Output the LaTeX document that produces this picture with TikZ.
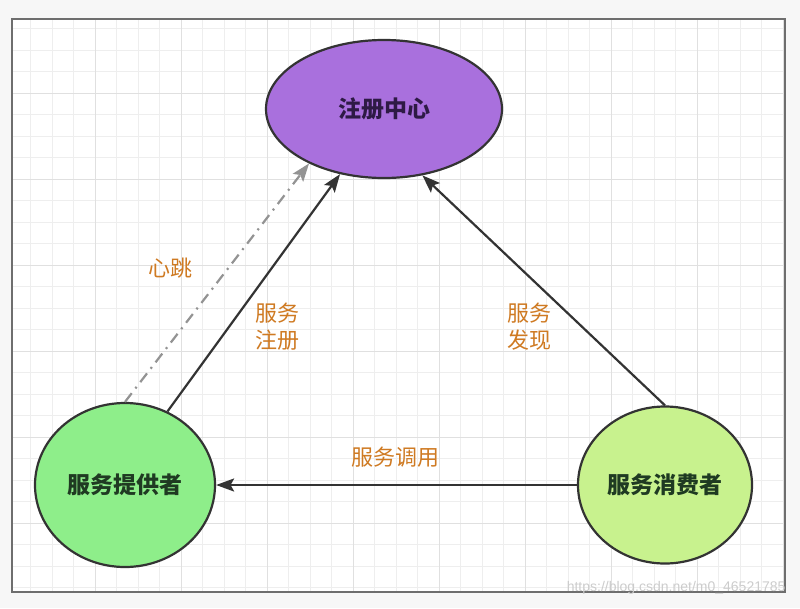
\documentclass[tikz,border=0pt]{standalone}
\usepackage{fontspec}
\setmainfont{Noto Sans CJK SC}
\newfontfamily\wmfont{Liberation Sans}
\usetikzlibrary{shapes.geometric,arrows.meta}
\definecolor{purplefill}{HTML}{A970DD}
\definecolor{provfill}{HTML}{8EEE8A}
\definecolor{consfill}{HTML}{C8F28E}
\definecolor{edgecol}{HTML}{333333}
\definecolor{labelcol}{HTML}{CF7A22}
\definecolor{gridminor}{HTML}{EEEEEE}
\definecolor{gridmajor}{HTML}{E0E0E0}
\definecolor{framecol}{HTML}{6E6E6E}
\definecolor{regtext}{HTML}{2E1A45}
\definecolor{nodetext}{HTML}{1F3A22}
\tikzset{
  ent/.style={ellipse, draw=edgecol, line width=2.2pt, inner sep=0pt,
    font=\fontsize{23}{27}\selectfont\bfseries},
  link/.style={draw=edgecol, line width=2.2pt,
    -{Stealth[length=18pt,width=13pt,inset=3.5pt]}},
  beat/.style={draw=gray!85, line width=2.2pt,
    dash pattern=on 11pt off 6pt on 2pt off 6pt,
    -{Stealth[length=18pt,width=13pt,inset=3.5pt]}},
  lab/.style={text=labelcol, font=\fontsize{22}{27}\selectfont, align=center}
}
\begin{document}
\begin{tikzpicture}[x=1pt,y=-1pt]
\useasboundingbox (0,0) rectangle (800,608);
\fill[white!97!black] (0,0) rectangle (800,608);
\fill[white] (12,19) rectangle (785,592);
\begin{scope}
  \clip (12,19) rectangle (785,592);
  \foreach \i in {0,...,36} {
    \pgfmathsetmacro{\xx}{9+21.5*\i}
    \draw[gridminor, line width=0.8pt] (\xx,19) -- (\xx,592);
  }
  \foreach \i in {0,...,27} {
    \pgfmathsetmacro{\yy}{7+21.5*\i}
    \draw[gridminor, line width=0.8pt] (12,\yy) -- (785,\yy);
  }
  \foreach \i in {0,...,9} {
    \pgfmathsetmacro{\xx}{9+86*\i}
    \draw[gridmajor, line width=1pt] (\xx,19) -- (\xx,592);
  }
  \foreach \i in {0,...,7} {
    \pgfmathsetmacro{\yy}{7+86*\i}
    \draw[gridmajor, line width=1pt] (12,\yy) -- (785,\yy);
  }
\end{scope}
\draw[framecol, line width=2.2pt] (12,19) rectangle (785,592);

\node[ent, fill=purplefill, text=regtext, minimum width=236pt, minimum height=138pt] (reg) at (384,109) {注册中心};
\node[ent, fill=provfill, text=nodetext, minimum width=180pt, minimum height=164pt] (prov) at (125,485) {服务提供者};
\node[ent, fill=consfill, text=nodetext, minimum width=174pt, minimum height=157pt] (cons) at (665,485) {服务消费者};

\draw[beat] (prov.90) -- (reg.216.5);
\draw[link] (prov.60) -- (reg.-124.5);
\draw[link] (cons.90) -- (reg.-60);
\draw[link] (cons.west) -- (prov.east);

\node[lab] (lbeat) at (170,268) {心跳};
\node[lab] (lreg) at (277,327) {服务\\注册};
\node[lab] (ldisc) at (529,327) {服务\\发现};
\node[lab] (lcall) at (395,457) {服务调用};
\node[anchor=east, text=gray!40, font=\wmfont\fontsize{14}{16}\selectfont] (wm) at (789,588) {https://blog.csdn.net/m0\_46521785};
\end{tikzpicture}
\end{document}
